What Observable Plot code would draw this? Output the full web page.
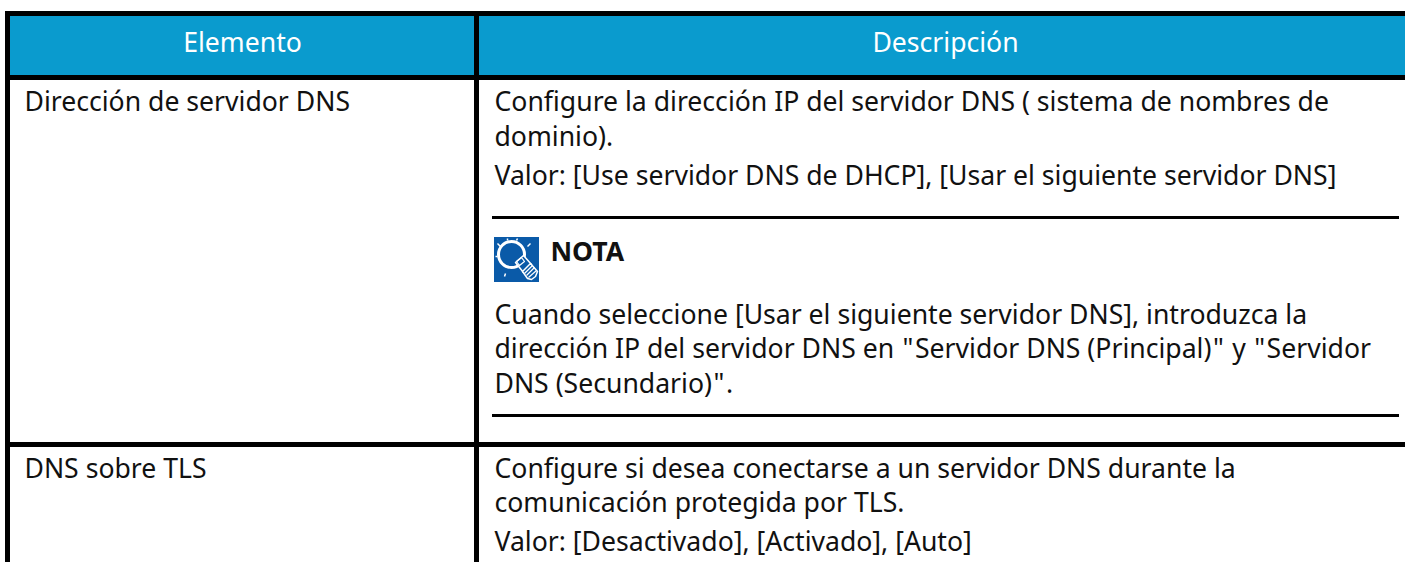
<!DOCTYPE html>
<html><head><meta charset="utf-8">
<style>html,body{margin:0;padding:0;background:#fff}svg{display:block}</style>
<script src="https://cdn.jsdelivr.net/npm/d3@7"></script>
<script src="https://cdn.jsdelivr.net/npm/@observablehq/plot@0.6"></script>
</head><body><script>
const headers = [
  {text:"Elemento", x:242, y:43},
  {text:"Descripción", x:945, y:43}
];
const bodyLines = [
  {text:"Dirección de servidor DNS", x:24, y:102},
  {text:"Configure la dirección IP del servidor DNS ( sistema de nombres de", x:494, y:102},
  {text:"dominio).", x:494, y:137},
  {text:"Valor: [Use servidor DNS de DHCP], [Usar el siguiente servidor DNS]", x:494, y:176},
  {text:"Cuando seleccione [Usar el siguiente servidor DNS], introduzca la", x:494, y:315},
  {text:"dirección IP del servidor DNS en \"Servidor DNS (Principal)\" y \"Servidor", x:494, y:349},
  {text:"DNS (Secundario)\".", x:494, y:384},
  {text:"DNS sobre TLS", x:24, y:469},
  {text:"Configure si desea conectarse a un servidor DNS durante la", x:494, y:469},
  {text:"comunicación protegida por TLS.", x:494, y:503},
  {text:"Valor: [Desactivado], [Activado], [Auto]", x:494, y:542}
];
const boldLines = [{text:"NOTA", x:550, y:252}];
const headerFill = [{x1:10,x2:1405,y1:16,y2:75}];
const blackRects = [
  {x1:5,x2:1405,y1:11,y2:16},
  {x1:5,x2:1405,y1:75,y2:80},
  {x1:5,x2:1405,y1:442,y2:447},
  {x1:5,x2:10,y1:11,y2:562},
  {x1:474,x2:479,y1:11,y2:562},
  {x1:492,x2:1399,y1:216,y2:219},
  {x1:492,x2:1399,y1:414,y2:417}
];
const iconBox = [{x1:494,x2:539,y1:237,y2:282}];
const bulbGlass = [{x:511,y:254}];
const bulbNeck = [
  {x:515,y:262},{x:523,y:255},{x:531,y:264},{x:523,y:272},{x:515,y:262}
];
const bulbBase = [
  {x:522,y:271},{x:530,y:263},{x:537,y:271},{x:535,y:276},{x:531,y:279},{x:527,y:278},{x:522,y:271}
];
const filament = [{x:516,y:261},{x:521,y:257},{x:524,y:261},{x:519,y:265},{x:516,y:261}];
const rays = [
  {x1:497,y1:243,x2:500,y2:246},{x1:507,y1:238,x2:507,y2:240},{x1:517,y1:238,x2:516,y2:240},
  {x1:530,y1:243,x2:527,y2:246},{x1:495,y1:256,x2:497,y2:256},{x1:504,y1:276,x2:505,y2:273}
];
const stripes = [
  {x1:524,y1:273,x2:532,y2:265},{x1:526,y1:275,x2:534,y2:267},{x1:528,y1:277,x2:536,y2:270}
];
const font = "'Noto Sans', sans-serif";
const quoteSpacing = 3;
function widenQuotes(index, scales, values, dims, ctx, next) {
  const g = next(index, scales, values, dims, ctx);
  g.querySelectorAll("text").forEach(t => {
    const s = t.textContent;
    if (!s.includes('"')) return;
    t.textContent = "";
    s.split(/(")/).forEach(part => {
      if (!part) return;
      const span = document.createElementNS("http://www.w3.org/2000/svg", "tspan");
      span.textContent = part;
      if (part === '"') {
        span.setAttribute("dx", quoteSpacing / 2);
        span.setAttribute("letter-spacing", quoteSpacing / 2);
      }
      t.append(span);
    });
  });
  return g;
}
document.body.append(Plot.plot({
  width:1405, height:562, margin:0,
  x:{domain:[0,1405],range:[0,1405],axis:null},
  y:{domain:[0,562],range:[0,562],axis:null},
  style:{background:"#fff"},
  marks:[
    Plot.rect(headerFill,{x1:"x1",x2:"x2",y1:"y1",y2:"y2",fill:"#0a9bce"}),
    Plot.rect(blackRects,{x1:"x1",x2:"x2",y1:"y1",y2:"y2",fill:"#000"}),
    Plot.rect(iconBox,{x1:"x1",x2:"x2",y1:"y1",y2:"y2",fill:"#0a5aa8"}),
    Plot.dot(bulbGlass,{x:"x",y:"y",r:13,stroke:"#fff",strokeWidth:3,fill:"#0a5aa8"}),
    Plot.line(bulbNeck,{x:"x",y:"y",stroke:"#fff",strokeWidth:1.5,fill:"#0a5aa8"}),
    Plot.line(filament,{x:"x",y:"y",stroke:"#fff",strokeWidth:1.2}),
    Plot.line(bulbBase,{x:"x",y:"y",stroke:"#fff",strokeWidth:1.5,fill:"#0a5aa8"}),
    Plot.link(stripes,{x1:"x1",y1:"y1",x2:"x2",y2:"y2",stroke:"#fff",strokeWidth:1.2}),
    Plot.link(rays,{x1:"x1",y1:"y1",x2:"x2",y2:"y2",stroke:"#fff",strokeWidth:1.5}),
    Plot.text(headers,{x:"x",y:"y",text:"text",fill:"#fff",fontSize:26.6,fontFamily:font,textAnchor:"middle"}),
    Plot.text(bodyLines,{x:"x",y:"y",text:"text",fill:"#111",fontSize:26.6,fontFamily:font,textAnchor:"start",render:widenQuotes}),
    Plot.text(boldLines,{x:"x",y:"y",text:"text",fill:"#111",fontSize:26.6,fontWeight:700,fontFamily:font,textAnchor:"start"})
  ]
}));
</script></body></html>
